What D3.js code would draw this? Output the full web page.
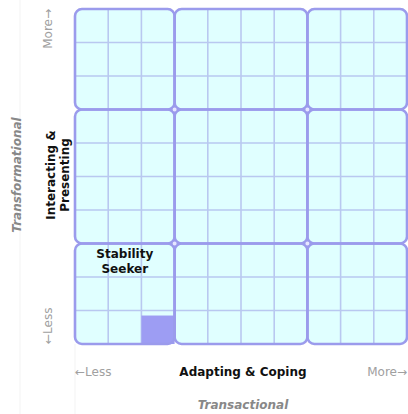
<!DOCTYPE html>
<html>
<head>
<script src="https://d3js.org/d3.v7.min.js"></script>
<style>
  body { margin: 0; background: #fff; }
  text { font-family: "DejaVu Sans", Verdana, sans-serif; }
</style>
</head>
<body>
<svg width="408" height="414"></svg>
<script>
// grid of 10 x 10 cells, split in 3 blocks on each axis
const cells = d3.range(10);
const blockEdges = [0, 3, 7, 10];
const xLabels = ["\u2190Less", "Adapting & Coping", "More\u2192"];
const yLabels = ["\u2190Less", "Interacting & Presenting", "More\u2192"];
const xTitle = "Transactional";
const yTitle = "Transformational";
const zoneName = ["Stability", "Seeker"];
// highlighted bar: column span and fill level (cells from bottom)
const barCol = [2, 3];
const barLevel = [0, 0.85];

const svg = d3.select("svg");

const x = d3.scaleLinear().domain([0, 10]).range([75, 407]);
const y = d3.scaleLinear().domain([0, 10]).range([9, 344]);
// level measured from bottom
const yUp = d3.scaleLinear().domain([0, 10]).range([344, 9]);

// faint frame lines
svg.append("line").attr("x1", 20).attr("x2", 20).attr("y1", 0).attr("y2", 414)
  .attr("stroke", "#f3f3f3");
svg.append("line").attr("x1", 75).attr("x2", 75).attr("y1", 344).attr("y2", 414)
  .attr("stroke", "#f3f3f3");

// background blocks
const blocks = [];
for (let i = 0; i < 3; i++) for (let j = 0; j < 3; j++)
  blocks.push({ x0: blockEdges[i], x1: blockEdges[i + 1], y0: blockEdges[j], y1: blockEdges[j + 1] });

svg.selectAll(".bg").data(blocks).enter().append("rect")
  .attr("x", d => x(d.x0)).attr("y", d => y(d.y0))
  .attr("width", d => x(d.x1) - x(d.x0)).attr("height", d => y(d.y1) - y(d.y0))
  .attr("rx", 7).attr("fill", "#e0ffff");

// thin lines
const g = svg.append("g");
g.selectAll(".vl").data(cells.filter(c => !blockEdges.includes(c))).enter().append("line")
  .attr("x1", d => x(d)).attr("x2", d => x(d)).attr("y1", y(0)).attr("y2", y(10))
  .attr("stroke", "#b9c8f0").attr("stroke-width", 1.6);
g.selectAll(".hl").data(cells.filter(c => !blockEdges.includes(c))).enter().append("line")
  .attr("y1", d => y(d)).attr("y2", d => y(d)).attr("x1", x(0)).attr("x2", x(10))
  .attr("stroke", "#b9c8f0").attr("stroke-width", 1.6);

// bar
svg.append("rect")
  .attr("x", x(barCol[0])).attr("width", x(barCol[1]) - x(barCol[0]))
  .attr("y", yUp(barLevel[1])).attr("height", yUp(barLevel[0]) - yUp(barLevel[1]))
  .attr("fill", "#9d9df3");

// block outlines
svg.selectAll(".blk").data(blocks).enter().append("rect")
  .attr("x", d => x(d.x0)).attr("y", d => y(d.y0))
  .attr("width", d => x(d.x1) - x(d.x0)).attr("height", d => y(d.y1) - y(d.y0))
  .attr("rx", 7).attr("fill", "none")
  .attr("stroke", "#9b9bec").attr("stroke-width", 2.6);

// rings at inner crossings
const crossings = [];
[3, 7].forEach(a => [3, 7].forEach(b => crossings.push([a, b])));
svg.selectAll(".ring").data(crossings).enter().append("circle")
  .attr("cx", d => x(d[0])).attr("cy", d => y(d[1])).attr("r", 2.8)
  .attr("fill", "#e6e6ff").attr("stroke", "#9b9bec").attr("stroke-width", 1.6);

// zone name
svg.append("text").attr("x", (x(0) + x(3)) / 2).attr("y", y(7) + 14)
  .attr("text-anchor", "middle").attr("font-weight", "bold").attr("font-size", 12)
  .attr("fill", "#111")
  .selectAll("tspan").data(zoneName).enter().append("tspan")
  .attr("x", (x(0) + x(3)) / 2).attr("dy", (d, i) => i ? 15 : 0).text(d => d);

// bottom axis labels
const ax = 376;
svg.append("text").attr("x", x(0)).attr("y", ax).attr("font-size", 12)
  .attr("fill", "#a0a0a0").text(xLabels[0]);
svg.append("text").attr("x", 243).attr("y", ax).attr("text-anchor", "middle")
  .attr("font-size", 12).attr("font-weight", "bold").attr("fill", "#111").text(xLabels[1]);
svg.append("text").attr("x", x(10)).attr("y", ax).attr("text-anchor", "end")
  .attr("font-size", 12).attr("fill", "#a0a0a0").text(xLabels[2]);
svg.append("text").attr("x", 243).attr("y", 409).attr("text-anchor", "middle")
  .attr("font-size", 12).attr("font-weight", "bold").attr("font-style", "italic")
  .attr("fill", "#888").text(xTitle);

// left axis labels (rotated)
const lx = 52;
svg.append("text").attr("transform", `translate(${lx},${y(10)}) rotate(-90)`)
  .attr("font-size", 12).attr("fill", "#a0a0a0").text(yLabels[0]);
svg.append("text").attr("transform", `translate(${lx},${y(0)}) rotate(-90)`)
  .attr("text-anchor", "end").attr("font-size", 12).attr("fill", "#a0a0a0").text(yLabels[2]);
const mid = svg.append("text").attr("transform", `translate(57,175) rotate(-90)`)
  .attr("text-anchor", "middle").attr("font-size", 12).attr("font-weight", "bold")
  .attr("fill", "#111");
mid.append("tspan").attr("x", 0).attr("y", -2).text("Interacting &");
mid.append("tspan").attr("x", 0).attr("y", 12).text("Presenting");
svg.append("text").attr("transform", `translate(21,175) rotate(-90)`)
  .attr("text-anchor", "middle").attr("font-size", 12).attr("font-weight", "bold")
  .attr("font-style", "italic").attr("fill", "#888").text(yTitle);
</script>
</body>
</html>
